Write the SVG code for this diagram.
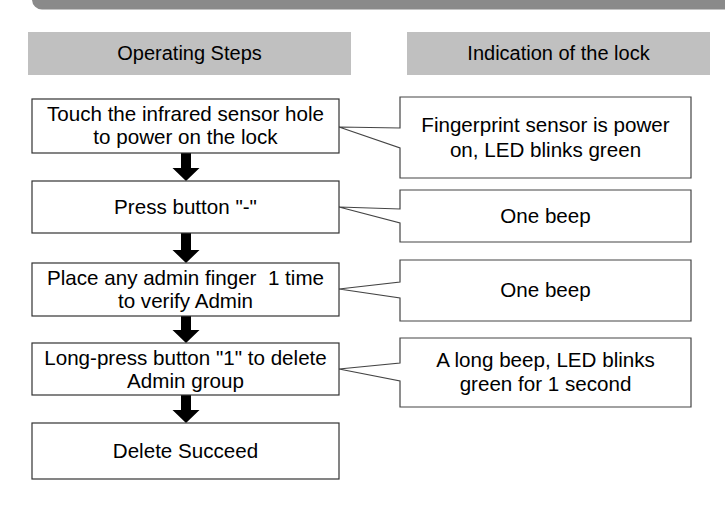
<svg xmlns="http://www.w3.org/2000/svg" width="725" height="507" viewBox="0 0 725 507">
<style>
text{font-family:"Liberation Sans",Arial,sans-serif;font-size:20.6px;fill:#000;text-anchor:middle;white-space:pre}
.hdr{fill:#c0c0c0}
.box{fill:#fff;stroke:#333;stroke-width:1.2}
.call{fill:#fff;stroke:#444;stroke-width:1.2;stroke-linejoin:miter}
.arr{fill:#000}
</style>
<rect width="725" height="507" fill="#fff"/>
<path d="M32,0 H725 V9.5 H42 A10,10 0 0 1 32,0 Z" fill="#8a8a8a"/>
<g id="header-steps"><rect class="hdr" x="28" y="32" width="323" height="43"/><text x="189.5" y="60" style="font-size:20px">Operating Steps</text></g>
<g id="header-indication"><rect class="hdr" x="407" y="32" width="303" height="43"/><text x="558.5" y="60" style="font-size:20px">Indication of the lock</text></g>
<g id="callouts">
<g id="ind1"><path class="call" d="M400,97 H691 V178 H400 V148 L339,127 L400,128 Z"/><text x="545.5" y="132">Fingerprint sensor is power</text><text x="545.5" y="157">on, LED blinks green</text></g>
<g id="ind2"><path class="call" d="M400,190 H691 V242 H400 V223 L339,207 L400,209 Z"/><text x="545.5" y="223">One beep</text></g>
<g id="ind3"><path class="call" d="M400,260 H691 V321 H400 V298 L339,289 L400,282 Z"/><text x="545.5" y="297">One beep</text></g>
<g id="ind4"><path class="call" d="M400,338 H691 V407 H400 V381 L339,369 L400,363 Z"/><text x="545.5" y="367">A long beep, LED blinks</text><text x="545.5" y="391">green for 1 second</text></g>
</g>
<g id="connectors">
<polygon class="arr" points="181,153 191,153 191,168 199.5,168 186,181 172.5,168 181,168"/>
<polygon class="arr" points="181,233 191,233 191,250 199.5,250 186,263 172.5,250 181,250"/>
<polygon class="arr" points="181,316 191,316 191,330 199.5,330 186,343 172.5,330 181,330"/>
<polygon class="arr" points="181,395 191,395 191,410 199.5,410 186,423 172.5,410 181,410"/>
</g>
<g id="step1"><rect class="box" x="32" y="99" width="307" height="54"/><text x="185.5" y="121">Touch the infrared sensor hole</text><text x="185.5" y="144">to power on the lock</text></g>
<g id="step2"><rect class="box" x="32" y="181" width="307" height="52"/><text x="185.5" y="214">Press button "-"</text></g>
<g id="step3"><rect class="box" x="32" y="263" width="307" height="53"/><text x="185.5" y="285">Place any admin finger  1 time</text><text x="185.5" y="308">to verify Admin</text></g>
<g id="step4"><rect class="box" x="32" y="343" width="307" height="52"/><text x="185.5" y="365">Long-press button "1" to delete</text><text x="185.5" y="388">Admin group</text></g>
<g id="step5"><rect class="box" x="32" y="423" width="307" height="56"/><text x="185.5" y="458">Delete Succeed</text></g>
</svg>
